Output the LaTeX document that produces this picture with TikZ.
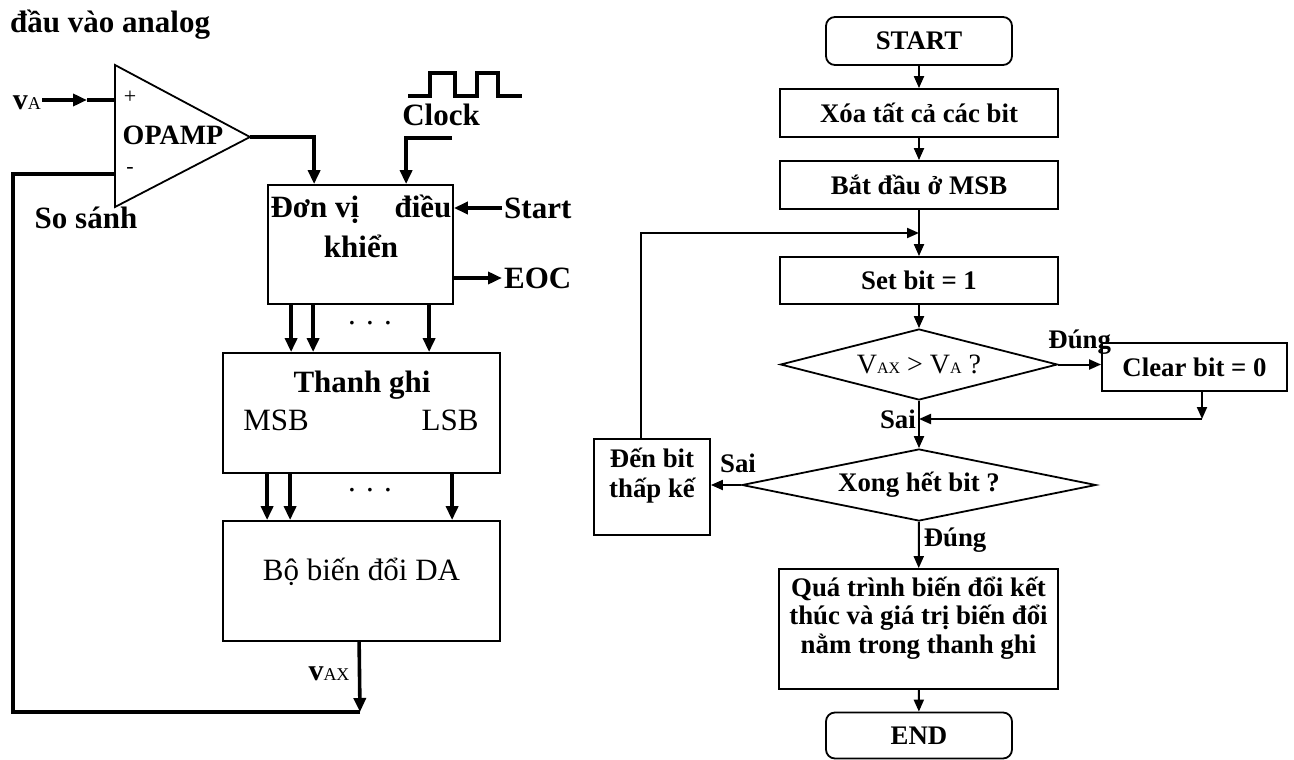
\documentclass[tikz,border=0pt]{standalone}
\usepackage{fontspec}
\setmainfont{Liberation Serif}
\usepackage{tikz}
\usetikzlibrary{arrows.meta,positioning,calc,shapes.geometric}

\newcommand{\bigbf}{\fontsize{31}{40}\selectfont\bfseries}
\newcommand{\bigrm}{\fontsize{31}{40}\selectfont}
\newcommand{\flowbf}{\fontsize{26.8}{28.5}\selectfont\bfseries}
\newcommand{\volt}[1]{{\fontsize{30}{30}\selectfont\bfseries v}{\fontsize{18}{18}\selectfont #1}}
\newcommand{\bigV}[1]{V{\fontsize{16}{16}\selectfont #1}}

\begin{document}
\begin{tikzpicture}[x=1pt, y=-1pt,
  wire/.style={line width=3.6pt},
  thinline/.style={line width=1.8pt},
  flow/.style={line width=2pt},
  tip/.style={-{Triangle[length=14pt,width=12pt]}},
  ftip/.style={-{Triangle[length=12pt,width=10pt]}},
  blk/.style={draw, line width=1.8pt, inner sep=0pt},
  proc/.style={draw, line width=1.8pt, inner sep=0pt, minimum width=278pt, minimum height=48pt, font=\flowbf},
  term/.style={proc, rounded corners=9pt, minimum width=186pt},
  dec/.style={draw, diamond, line width=1.8pt, inner sep=0pt},
  lbl/.style={font=\flowbf, inner sep=1pt}]
\useasboundingbox (0,0) rectangle (1294,760);
% ---- left: block diagram
\node[font=\bigbf, anchor=west, inner sep=0pt] (title) at (10,25) {đầu vào analog};
\draw[thinline] (115,65) -- (250,137) -- (115,207) -- cycle;
\coordinate (inp) at (115,100);
\coordinate (inm) at (115,174);
\coordinate (out) at (250,137);
\node[font=\fontsize{22}{22}\selectfont] (plus) at (130,97) {+};
\node[font=\fontsize{22}{22}\selectfont] (minus) at (130,170) {-};
\node[font=\fontsize{28}{28}\selectfont\bfseries] (opamp) at (173,135) {OPAMP};
\node[font=\bigbf, anchor=base] (sosanh) at (86,228) {So sánh};
\node[anchor=base east, inner sep=1pt] (va) at (42,110) {\volt{A}};
\coordinate (vamid) at (87,100);
\draw[wire, tip] (va.east |- inp) -- (vamid);
\draw[wire] (vamid) -- (inp);

\node[blk, minimum width=185pt, minimum height=119pt] (ctrl) at (360.5,244.5) {};
\node[font=\bigbf, anchor=base] (ctrlA) at (361,217) {\makebox[181pt]{Đơn vị\hfill điều}};
\node[font=\bigbf, anchor=base] (ctrlB) at (361,257) {khiển};
\draw[wire, tip] (out) -| ([xshift=47pt]ctrl.north west);

% clock
\draw[wire] (408,96) -- (430,96) -- (430,73) -- (455,73) -- (455,96) -- (477,96)
  -- (477,73) -- (498,73) -- (498,96) -- (522,96);
\node[font=\bigbf, anchor=base] (clk) at (441,125) {Clock};
\coordinate (clkin) at (452,138);
\draw[wire, tip] (clkin) -| ([xshift=139pt]ctrl.north west);

\node[font=\bigbf, anchor=west, inner sep=2pt] (start) at (502,208) {Start};
\draw[wire, tip] (start.west) -- (start.west -| ctrl.east);
\node[font=\bigbf, anchor=west, inner sep=2pt] (eoc) at (502,278) {EOC};
\draw[wire, tip] (ctrl.east |- eoc.west) -- (eoc.west);

\node[blk, minimum width=277pt, minimum height=120pt] (reg) at (361.5,413) {};
\node[font=\bigbf, anchor=base] (regname) at (362,392) {Thanh ghi};
\node[font=\bigrm, anchor=base] (msbl) at (276,430) {MSB};
\node[font=\bigrm, anchor=base] (lsbl) at (450,430) {LSB};
\foreach \a/\b in {24/69,46/91,162/207}
  \draw[wire, tip] ([xshift=\a pt]ctrl.south west) -- ([xshift=\b pt]reg.north west);
\node[font=\bigrm, anchor=base] (dotsA) at (370,324) {. . .};

\node[blk, minimum width=277pt, minimum height=120pt] (dac) at (361.5,581) {};
\node[font=\bigrm, anchor=base] (dactxt) at (361.5,580) {Bộ biến đổi DA};
\foreach \a in {45,68,230}
  \draw[wire, tip] ([xshift=\a pt]reg.south west) -- ([xshift=\a pt]dac.north west);
\node[font=\bigrm, anchor=base] (dotsB) at (370,491) {. . .};

% feedback to the minus input
\coordinate (fb) at (360,712);
\coordinate (fbl) at (13,712);
\draw[wire, tip] ([xshift=137pt]dac.south west) -- (fb);
\draw[wire] (fb) -- (fbl) |- (inm);
\node[anchor=base, inner sep=1pt] (vax) at (329,680) {\volt{AX}};

% ---- right: flowchart
\node[term] (st) at (919,41) {START};
\node[proc] (clr) at (919,113) {Xóa tất cả các bit};
\node[proc] (msb) at (919,185) {Bắt đầu ở MSB};
\node[proc, minimum height=47pt] (set) at (919,280.5) {Set bit = 1};
\node[dec, minimum width=277pt, minimum height=71pt, aspect=3.9,
  font=\fontsize{28}{28}\selectfont] (cmp) at (919,364.5) {\bigV{AX} > \bigV{A} ?};
\node[proc, minimum width=185pt] (zero) at (1194.5,367) {Clear bit = 0};
\node[dec, minimum width=354pt, minimum height=72pt, aspect=4.9, font=\flowbf] (done) at (919,485) {Xong hết bit ?};
\node[blk, minimum width=116pt, minimum height=96pt] (next) at (652,487) {};
\node[font=\flowbf, align=center, anchor=base] (nexttxt) at (652,497) {Đến bit\\[1.5pt]thấp kế};
\node[blk, minimum width=279pt, minimum height=120pt] (fin) at (918.5,629) {};
\node[font=\flowbf, align=center, anchor=base] (fintxt) at (918.5,653)
  {Quá trình biến đổi kết\\thúc và giá trị biến đổi\\nằm trong thanh ghi};
\node[term, minimum height=46pt] (end) at (919,735.5) {END};

\coordinate (merge) at ($(msb.south)!0.5!(set.north)$);
\coordinate (ret) at (1202,419);
\draw[flow, ftip] (st) -- (clr);
\draw[flow, ftip] (clr) -- (msb);
\draw[flow, ftip] (msb) -- (set);
\draw[flow, ftip] (set) -- (cmp);
\draw[flow, ftip] (cmp.east) -- node[lbl, above=8pt] (yes1) {Đúng} (cmp.east -| zero.west);
\draw[flow, ftip] ([xshift=7.5pt]zero.south) -- (ret);
\draw[flow, ftip] (ret) -- (cmp.south |- ret);
\node[lbl, anchor=east] (no1) at ([xshift=-2pt]cmp.south |- ret) {Sai};
\draw[flow, ftip] (cmp) -- (done);
\draw[flow, ftip] (done.west) -- (next.east |- done.west);
\node[lbl] (no2) at (738,463) {Sai};
\draw[flow, ftip] ([xshift=-11pt]next.north) |- (merge);
\draw[flow, ftip] (done) -- node[lbl, right=3pt, pos=0.4] (yes2) {Đúng} (fin);
\draw[flow, ftip] (fin) -- (end);
\end{tikzpicture}
\end{document}
